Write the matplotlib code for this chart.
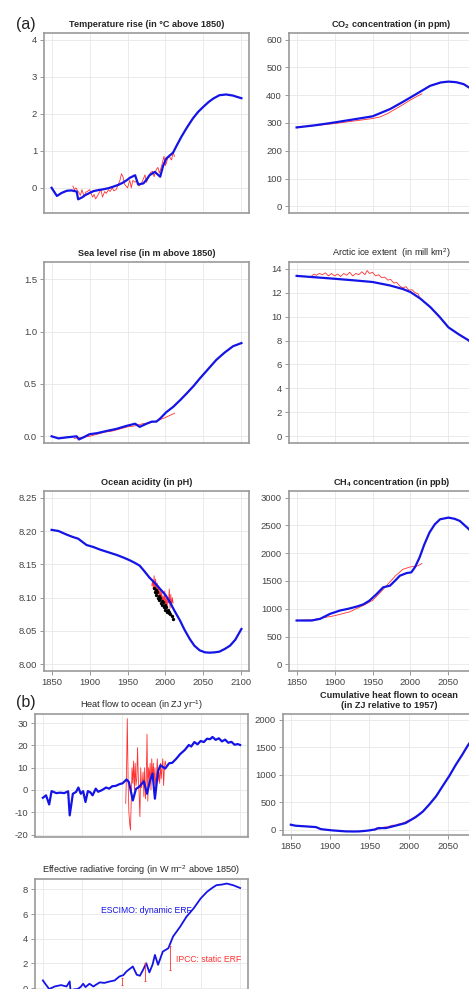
import matplotlib
matplotlib.use("Agg")
from matplotlib import pyplot as plt

plt.rcParams['font.family'] = ['Liberation Sans', 'DejaVu Sans']
plt.rcParams['mathtext.fontset'] = 'custom'
plt.rcParams['mathtext.rm'] = 'Liberation Sans'
plt.rcParams['mathtext.bf'] = 'Liberation Sans:bold'

# ---- data ----
temp_yr = [1850, 1857, 1863, 1870, 1876, 1883, 1885, 1890, 1894, 1900, 1905, 1912, 1918, 1925,
           1931, 1938, 1944, 1950, 1953, 1960, 1964, 1971, 1975, 1979, 1986, 1993, 1997, 2001,
           2006, 2010, 2015, 2021, 2028, 2036, 2043, 2050, 2057, 2063, 2071, 2080, 2089, 2095, 2100]
temp_model = [0.0, -0.22, -0.14, -0.08, -0.07, -0.1, -0.31, -0.26, -0.2, -0.14, -0.09, -0.06, -0.04,
              -0.01, 0.03, 0.08, 0.14, 0.22, 0.27, 0.34, 0.09, 0.12, 0.22, 0.34, 0.43, 0.3, 0.6,
              0.79, 0.88, 0.95, 1.15, 1.38, 1.62, 1.87, 2.05, 2.19, 2.32, 2.41, 2.5, 2.52, 2.49, 2.45, 2.42]
temp_obs_yr = [1878, 1880, 1882, 1885, 1888, 1890, 1893, 1895, 1897, 1900, 1902, 1904, 1906, 1908,
               1911, 1913, 1915, 1917, 1920, 1922, 1925, 1927, 1930, 1932, 1935, 1938, 1940, 1942,
               1944, 1946, 1948, 1950, 1953, 1955, 1957, 1960, 1963, 1965, 1968, 1970, 1973, 1975,
               1978, 1980, 1983, 1985, 1988, 1990, 1992, 1995, 1998, 2000, 2003, 2005, 2008, 2010, 2012]
temp_obs = [0.05, -0.05, 0.0, -0.1, -0.2, -0.05, -0.25, -0.12, -0.1, -0.05, -0.15, -0.25, -0.18, -0.3,
            -0.2, -0.12, -0.05, -0.25, -0.1, -0.15, -0.05, -0.1, 0.0, -0.08, -0.05, 0.1, 0.2, 0.38,
            0.3, 0.1, 0.05, 0.0, 0.2, 0.0, 0.2, 0.15, 0.2, 0.05, 0.1, 0.2, 0.35, 0.15, 0.3, 0.4,
            0.45, 0.3, 0.5, 0.55, 0.4, 0.6, 0.85, 0.6, 0.8, 0.85, 0.75, 0.95, 0.85]

co2_yr = [1850, 1875, 1900, 1925, 1950, 1973, 1990, 2000, 2013, 2026, 2040, 2050, 2060, 2070, 2077, 2090, 2100]
co2_model = [284, 292, 302, 313, 324, 350, 376, 392, 413, 434, 446, 449, 447, 440, 428, 405, 388]
co2_obs_yr = [1850, 1875, 1900, 1925, 1950, 1960, 1970, 1980, 1990, 2000, 2010, 2015]
co2_obs = [285, 291, 298, 307, 316, 322, 334, 350, 366, 383, 398, 405]

sea_yr = [1850, 1859, 1870, 1883, 1886, 1892, 1900, 1910, 1922, 1935, 1949, 1960, 1966, 1975, 1982,
          1988, 1993, 2001, 2010, 2020, 2028, 2037, 2045, 2056, 2067, 2078, 2089, 2100]
sea_model = [0.0, -0.02, -0.01, 0.0, -0.03, -0.01, 0.02, 0.03, 0.05, 0.07, 0.1, 0.12, 0.09, 0.12, 0.14,
             0.14, 0.17, 0.23, 0.28, 0.35, 0.41, 0.48, 0.55, 0.64, 0.73, 0.8, 0.86, 0.89]
sea_obs_yr = [1880, 1890, 1900, 1910, 1920, 1930, 1940, 1950, 1960, 1970, 1980, 1990, 2000, 2012]
sea_obs = [-0.02, -0.01, 0.0, 0.02, 0.04, 0.05, 0.07, 0.09, 0.1, 0.12, 0.13, 0.15, 0.18, 0.22]

ice_yr = [1850, 1875, 1900, 1925, 1950, 1973, 1990, 2000, 2013, 2026, 2038, 2050, 2064, 2077, 2090, 2100]
ice_model = [13.4, 13.28, 13.16, 13.03, 12.89, 12.6, 12.3, 12.05, 11.5, 10.8, 10.0, 9.1, 8.5, 8.0, 6.8, 5.8]
ice_obs_yr = [1870, 1873, 1876, 1880, 1884, 1888, 1892, 1896, 1900, 1904, 1908, 1912, 1916, 1920,
              1924, 1928, 1932, 1936, 1940, 1943, 1946, 1950, 1954, 1958, 1962, 1966, 1970, 1974,
              1978, 1982, 1986, 1990, 1994, 1998, 2002, 2006, 2010, 2012]
ice_obs = [13.4, 13.55, 13.45, 13.6, 13.5, 13.65, 13.4, 13.6, 13.4, 13.55, 13.35, 13.6, 13.45, 13.7,
           13.4, 13.6, 13.5, 13.75, 13.5, 13.85, 13.6, 13.7, 13.4, 13.5, 13.25, 13.3, 13.05, 13.1,
           12.8, 12.85, 12.55, 12.4, 12.5, 12.2, 12.25, 12.0, 11.9, 11.6]

ph_yr = [1850, 1859, 1870, 1878, 1885, 1896, 1905, 1914, 1925, 1936, 1945, 1953, 1960, 1966, 1972,
         1979, 1986, 1993, 2000, 2006, 2012, 2019, 2025, 2032, 2038, 2045, 2052, 2058, 2065, 2071,
         2078, 2085, 2092, 2100]
ph_model = [8.2017, 8.2, 8.1945, 8.191, 8.1885, 8.179, 8.176, 8.172, 8.168, 8.164, 8.16, 8.156, 8.152,
            8.148, 8.14, 8.13, 8.122, 8.113, 8.104, 8.093, 8.08, 8.066, 8.052, 8.038, 8.028, 8.021,
            8.018, 8.0175, 8.018, 8.019, 8.023, 8.028, 8.037, 8.053]
ph_obs_yr = [1982, 1983, 1984, 1985, 1986, 1987, 1988, 1989, 1990, 1991, 1992, 1993, 1994, 1995,
             1996, 1997, 1998, 1999, 2000, 2001, 2002, 2003, 2004, 2005, 2006, 2007, 2008, 2009, 2010]
ph_obs = [8.118, 8.126, 8.112, 8.133, 8.108, 8.128, 8.112, 8.122, 8.105, 8.118, 8.1, 8.112, 8.098,
          8.108, 8.094, 8.103, 8.09, 8.11, 8.088, 8.1, 8.085, 8.097, 8.092, 8.113, 8.084, 8.105,
          8.086, 8.1, 8.092]
ph_dots_yr = [1985, 1986, 1987, 1988, 1989, 1990, 1991, 1992, 1993, 1994, 1995, 1996, 1997, 1998,
              1999, 2000, 2001, 2002, 2003, 2004, 2005, 2006, 2008, 2010]
ph_dots = [8.115, 8.108, 8.112, 8.104, 8.108, 8.1, 8.103, 8.096, 8.099, 8.092, 8.095, 8.089, 8.093,
           8.086, 8.089, 8.082, 8.086, 8.079, 8.082, 8.077, 8.079, 8.075, 8.072, 8.068]

ch4_yr = [1850, 1870, 1881, 1894, 1907, 1918, 1929, 1938, 1946, 1955, 1964, 1973, 1980, 1986, 1995,
          2001, 2006, 2012, 2018, 2025, 2032, 2039, 2050, 2058, 2065, 2077, 2090, 2100]
ch4_model = [789, 789, 819, 908, 968, 1000, 1039, 1080, 1147, 1260, 1386, 1416, 1510, 1595, 1643,
             1655, 1750, 1924, 2150, 2372, 2520, 2611, 2641, 2620, 2581, 2432, 2200, 2020]
ch4_obs_yr = [1850, 1870, 1890, 1900, 1920, 1940, 1950, 1960, 1970, 1980, 1990, 2000, 2005, 2010, 2015]
ch4_obs = [790, 800, 850, 875, 945, 1075, 1150, 1290, 1440, 1590, 1710, 1755, 1760, 1775, 1815]

hf_yr = [1850, 1854, 1858, 1861, 1867, 1872, 1877, 1882, 1884, 1888, 1892, 1895, 1898, 1901, 1904,
         1907, 1910, 1913, 1917, 1920, 1924, 1927, 1930, 1934, 1938, 1942, 1947, 1951, 1956, 1959,
         1964, 1968, 1972, 1978, 1982, 1986, 1989, 1992, 1996, 1999, 2005, 2010, 2014, 2019, 2024,
         2030, 2035, 2038, 2042, 2046, 2050, 2054, 2058, 2062, 2065, 2069, 2073, 2077, 2081, 2085,
         2089, 2093, 2097, 2100]
hf_model = [-3.5, -2.4, -6.5, -0.5, -1.4, -1.2, -1.4, -0.6, -11.4, -1.7, -0.9, 1.1, -1.7, -0.5, -5.4,
            -0.5, -1.0, -2.4, 0.6, -0.8, -0.2, 0.4, 1.1, 0.6, 1.7, 1.8, 2.6, 3.0, 4.7, 3.6, -4.7,
            0.5, 1.4, 3.9, -1.7, 4.5, 7.4, -3.9, 8.5, 11.1, 9.6, 12.0, 12.2, 14.0, 16.1, 18.0, 20.2,
            19.5, 21.5, 20.5, 22.0, 21.5, 23.0, 22.8, 23.8, 22.5, 23.2, 21.8, 22.6, 21.2, 21.6, 20.3,
            20.6, 20.2]
hf_obs_yr = [1955, 1956, 1957, 1958, 1959, 1960, 1961, 1962, 1963, 1964, 1965, 1966, 1967, 1968,
             1969, 1970, 1971, 1972, 1973, 1974, 1975, 1976, 1977, 1978, 1979, 1980, 1981, 1982,
             1983, 1984, 1985, 1986, 1987, 1988, 1989, 1990, 1991, 1992, 1993, 1994, 1995, 1996,
             1997, 1998, 1999, 2000, 2001, 2002, 2003, 2004, 2005, 2006]
hf_obs = [-6, 8, 32, 5, -10, -15, -18, -5, 10, 3, 13, 0, 12, 2, 5, 19, 5, -2, -12, 10, 1, 3, 8, -3,
          10, -4, 4, 25, -5, 10, 5, 12, 0, 14, 5, 12, 3, 10, 2, 6, 14, 4, 8, 3, 12, 5, 10, 14, 2,
          10, 13, 11]

cum_yr = [1850, 1856, 1869, 1882, 1888, 1895, 1903, 1912, 1920, 1930, 1937, 1944, 1950, 1957, 1962,
          1971, 1983, 1996, 2009, 2018, 2026, 2035, 2043, 2052, 2060, 2068, 2075, 2088, 2100]
cum_model = [91, 73, 61, 48, 12, 0, -12, -22, -30, -32, -30, -22, -12, 5, 30, 30, 73, 121, 230, 330,
             455, 610, 788, 985, 1182, 1360, 1527, 1800, 2030]
cum_obs_yr = [1957, 1960, 1963, 1966, 1970, 1973, 1976, 1980, 1983, 1986, 1990, 1993, 1996, 2000,
              2003, 2006, 2010, 2013, 2015]
cum_obs = [0, 35, 15, 30, 50, 45, 65, 80, 75, 95, 110, 120, 140, 170, 180, 210, 250, 270, 290]

erf_yr = [1850, 1853, 1858, 1865, 1873, 1880, 1884, 1885, 1890, 1894, 1898, 1901, 1904, 1909, 1914,
          1918, 1922, 1928, 1935, 1941, 1947, 1952, 1956, 1960, 1964, 1969, 1973, 1977, 1981, 1985,
          1989, 1992, 1996, 2002, 2009, 2015, 2024, 2032, 2041, 2050, 2058, 2064, 2070, 2077, 2083,
          2091, 2100]
erf_model = [0.62, 0.35, -0.08, 0.13, 0.24, 0.13, 0.54, -0.2, -0.1, -0.08, 0.1, 0.35, 0.08, 0.35, 0.13,
             0.3, 0.46, 0.42, 0.54, 0.62, 0.94, 1.05, 1.35, 1.55, 1.75, 1.08, 1.0, 1.48, 2.02, 1.27,
             1.9, 2.69, 1.89, 2.96, 3.23, 4.18, 4.98, 5.79, 6.46, 7.27, 7.81, 8.1, 8.35, 8.4, 8.48,
             8.35, 8.12]
erf_bar_yr = [1950, 1980, 2011]
erf_bar_lo = [0.27, 0.54, 1.48]
erf_bar_hi = [0.8, 2.02, 3.45]

years_a = [1850, 1900, 1950, 2000, 2050, 2100]

W, H = 469.0, 989.0
BLUE = '#1414e6'
RED = '#ff3030'


def make_axes(fig, x0, y0, x1, y1):
    return fig.add_axes([x0 / W, 1 - y1 / H, (x1 - x0) / W, (y1 - y0) / H])


def style(ax, title, ylim, yticks, yfmt='{:g}', xlabels=False, bold=True, right=False):
    ax.set_xlim(1840, 2110)
    ax.set_ylim(*ylim)
    ax.set_xticks(years_a)
    # the right-hand column runs off the edge of the picture, so its last label is not shown
    ax.set_xticklabels([str(y) if not (right and y == 2100) else '' for y in years_a])
    ax.set_yticks(yticks)
    ax.set_yticklabels([yfmt.format(v) for v in yticks])
    ax.grid(True, color='#e8e8e8', linewidth=0.6)
    ax.set_axisbelow(True)
    for s in ax.spines.values():
        s.set_color('#9a9a9a')
        s.set_linewidth(1.2)
    ax.tick_params(axis='y', direction='out', length=3, width=0.6, color='#888888',
                   labelsize=6.8, labelcolor='#444444', pad=2)
    if xlabels:
        ax.tick_params(axis='x', direction='out', length=3, width=0.6, color='#888888',
                       labelsize=6.8, labelcolor='#444444', pad=2)
    else:
        ax.tick_params(axis='x', length=0, labelbottom=False)
    ax.set_title(title, fontsize=6.6, fontweight='bold' if bold else 'normal',
                 color='#262626', pad=4)


fig = plt.figure(figsize=(W / 100, H / 100), dpi=100)

# (a) row 1
ax = make_axes(fig, 44, 33, 249, 213)
ax.plot(temp_obs_yr, temp_obs, color=RED, lw=0.6)
ax.plot(temp_yr, temp_model, color=BLUE, lw=1.6)
style(ax, 'Temperature rise (in \u00b0C above 1850)', (-0.68, 4.18), [0, 1, 2, 3, 4])

ax = make_axes(fig, 289, 33, 494, 213)
ax.plot(co2_obs_yr, co2_obs, color=RED, lw=0.6)
ax.plot(co2_yr, co2_model, color=BLUE, lw=1.6)
style(ax, r'CO$_\mathbf{2}$ concentration (in ppm)', (-24, 624), [0, 100, 200, 300, 400, 500, 600],
      right=True)

# (a) row 2
ax = make_axes(fig, 44, 262, 249, 443)
ax.plot(sea_obs_yr, sea_obs, color=RED, lw=0.6)
ax.plot(sea_yr, sea_model, color=BLUE, lw=1.6)
style(ax, 'Sea level rise (in m above 1850)', (-0.064, 1.664), [0, 0.5, 1.0, 1.5], '{:.1f}')

ax = make_axes(fig, 289, 262, 494, 443)
ax.plot(ice_obs_yr, ice_obs, color=RED, lw=0.6)
ax.plot(ice_yr, ice_model, color=BLUE, lw=1.6)
style(ax, r'Arctic ice extent  (in mill km$^2$)', (-0.56, 14.56), [0, 2, 4, 6, 8, 10, 12, 14],
      bold=False, right=True)

# (a) row 3
ax = make_axes(fig, 44, 491, 249, 671)
ax.plot(ph_obs_yr, ph_obs, color=RED, lw=0.6)
ax.plot(ph_yr, ph_model, color=BLUE, lw=1.6)
ax.scatter(ph_dots_yr, ph_dots, s=2, color='black', zorder=3)
style(ax, 'Ocean acidity (in pH)', (7.99, 8.26), [8.0, 8.05, 8.1, 8.15, 8.2, 8.25], '{:.2f}',
      xlabels=True)

ax = make_axes(fig, 289, 491, 494, 671)
ax.plot(ch4_obs_yr, ch4_obs, color=RED, lw=0.6)
ax.plot(ch4_yr, ch4_model, color=BLUE, lw=1.6)
style(ax, r'CH$_\mathbf{4}$ concentration (in ppb)', (-120, 3120), [0, 500, 1000, 1500, 2000, 2500, 3000],
      xlabels=True, right=True)

# (b)
ax = make_axes(fig, 35, 714, 248, 837)
ax.plot(hf_obs_yr, hf_obs, color=RED, lw=0.6)
ax.plot(hf_yr, hf_model, color=BLUE, lw=1.6)
style(ax, r'Heat flow to ocean (in ZJ yr$^{-1}$)', (-21.1, 34.1), [-20, -10, 0, 10, 20, 30],
      bold=False)

ax = make_axes(fig, 283, 714, 495, 835)
ax.plot(cum_obs_yr, cum_obs, color='#ff6060', lw=1.0)
ax.plot(cum_yr, cum_model, color=BLUE, lw=1.6)
style(ax, 'Cumulative heat flown to ocean\n(in ZJ relative to 1957)', (-96, 2109),
      [0, 500, 1000, 1500, 2000], xlabels=True, right=True)

ax = make_axes(fig, 35, 879, 248, 993)
ax.plot(erf_yr, erf_model, color=BLUE, lw=1.3)
ax.vlines(erf_bar_yr, erf_bar_lo, erf_bar_hi, color=RED, lw=0.6)
ax.hlines(erf_bar_lo + erf_bar_hi, [y - 1.2 for y in erf_bar_yr * 2], [y + 1.2 for y in erf_bar_yr * 2],
          color=RED, lw=0.6)
ax.text(1924, 6.28, 'ESCIMO: dynamic ERF', color=BLUE, fontsize=6.2, va='center', ha='left')
ax.text(2019, 2.35, 'IPCC: static ERF', color=RED, fontsize=6.2, va='center', ha='left')
style(ax, r'Effective radiative forcing (in W m$^{-2}$ above 1850)', (-0.4, 8.85), [0, 2, 4, 6, 8],
      bold=False)

fig.text(26 / W, 1 - 25 / H, '(a)', fontsize=11.5, ha='center', va='center', color='#222222')
fig.text(26 / W, 1 - 702 / H, '(b)', fontsize=11.5, ha='center', va='center', color='#222222')

fig.savefig('out.png', dpi=100)
